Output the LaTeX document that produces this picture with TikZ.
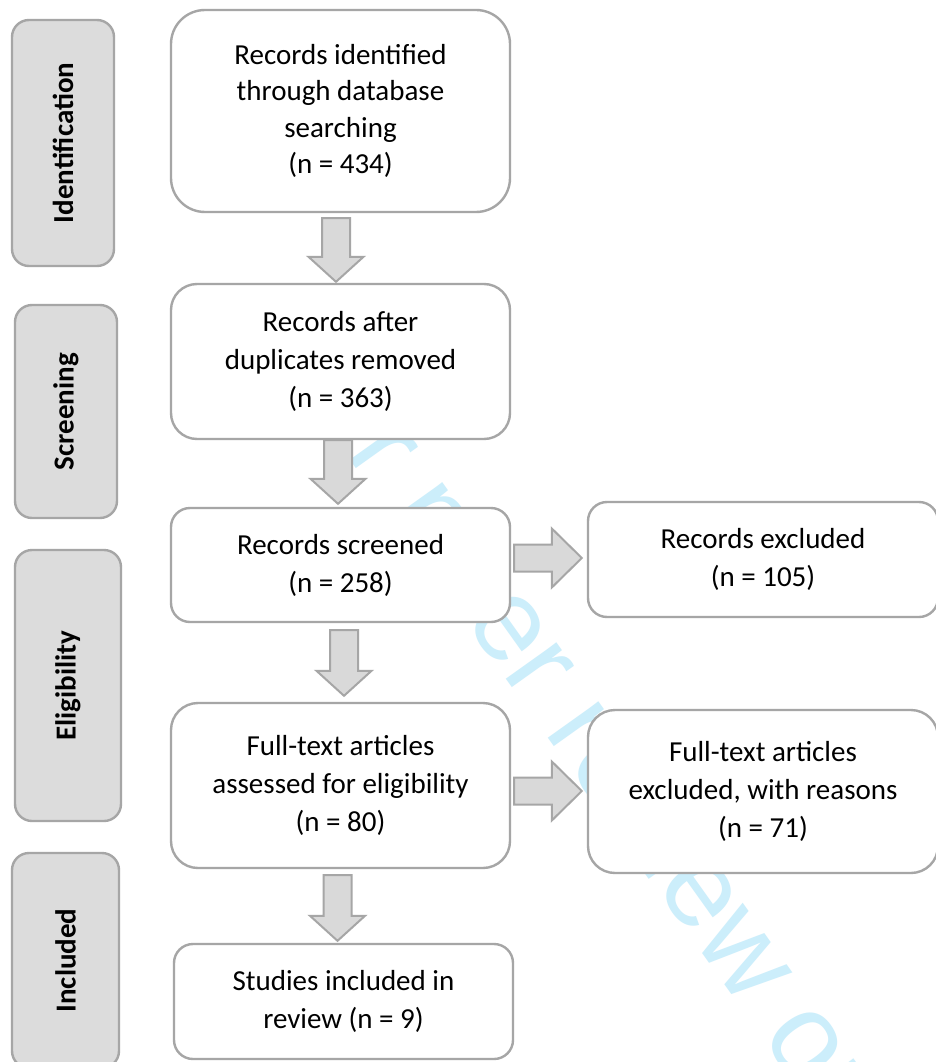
\documentclass[tikz,border=0pt]{standalone}
\usepackage{fontspec}
\setmainfont{Carlito}
\newfontfamily\markfont{Liberation Sans}
\usetikzlibrary{calc}

\definecolor{edgegray}{HTML}{A6A6A6}
\definecolor{panelgray}{HTML}{DCDCDC}
\definecolor{shaftgray}{HTML}{D9D9D9}
\definecolor{markblue}{HTML}{CCEEFB}

\tikzset{
  stage/.style={draw=edgegray, line width=2.4pt, fill=white, inner sep=0pt,
    align=center, font=\fontsize{29}{38}\selectfont},
  phase/.style={draw=edgegray, line width=2.4pt, fill=panelgray, inner sep=0pt,
    rotate=90, rounded corners=17pt, font=\bfseries\fontsize{29}{35}\selectfont},
  blockarrow/.style={draw=edgegray, line width=2pt, fill=shaftgray, line join=miter},
  watermark/.style={text=markblue, inner sep=0pt, rotate=-54.5,
    font=\markfont\fontsize{118}{118}\selectfont}
}

% block arrow pointing down: tail point, tip point (x taken from the tail)
\newcommand{\flowdown}[2]{%
  \path[blockarrow] let \p1=#1, \p2=#2 in
    (\x1-14pt,\y1) -- (\x1+14pt,\y1) -- (\x1+14pt,\y2+25pt) -- (\x1+27.5pt,\y2+25pt)
    -- (\x1,\y2) -- (\x1-27.5pt,\y2+25pt) -- (\x1-14pt,\y2+25pt) -- cycle;}
% block arrow pointing right: tail point (x only), tip point
\newcommand{\flowright}[2]{%
  \path[blockarrow] let \p1=#1, \p2=#2 in
    (\x1,\y2+13.5pt) -- (\x2-30pt,\y2+13.5pt) -- (\x2-30pt,\y2+29.5pt) -- (\x2,\y2)
    -- (\x2-30pt,\y2-29.5pt) -- (\x2-30pt,\y2-13.5pt) -- (\x1,\y2-13.5pt) -- cycle;}

\begin{document}
\begin{tikzpicture}[x=1pt,y=-1pt]
\clip (0,0) rectangle (936,1062);
\fill[white] (0,0) rectangle (936,1062);

% background watermark
\node[watermark] (mark) at (601,759) {For peer review only};

% phase labels on the left
\node[phase, minimum width=246pt, minimum height=102pt] (ident) at (63,143) {Identification};
\node[phase, minimum width=213pt, minimum height=102pt] (screen) at (66,411.5) {Screening};
\node[phase, minimum width=271pt, minimum height=106pt] (elig) at (68,685.5) {Eligibility};
\node[phase, minimum width=215pt, minimum height=107pt] (incl) at (65.5,960.5) {Included};

% main flow
\node[stage, minimum width=339pt, minimum height=202pt, rounded corners=34pt,
      font=\fontsize{29}{36.5}\selectfont] (found) at (340.5,111)
  {Records identified\\through database\\searching\\(n = 434)};
\node[stage, minimum width=339pt, minimum height=155pt, rounded corners=26pt] (dedup) at (340.5,361.5)
  {Records after\\duplicates removed\\(n = 363)};
\node[stage, minimum width=339pt, minimum height=114pt, rounded corners=19pt] (screened) at (340.5,565)
  {Records screened\\(n = 258)};
\node[stage, minimum width=339pt, minimum height=165pt, rounded corners=27pt] (fulltext) at (340.5,785.5)
  {Full-text articles\\assessed for eligibility\\(n = 80)};
\node[stage, minimum width=339pt, minimum height=115pt, rounded corners=19pt] (studies) at (343.5,1001.5)
  {Studies included in\\review (n = 9)};

% exclusions
\node[stage, minimum width=350pt, minimum height=115pt, rounded corners=19pt] (excl) at (763,559.5)
  {Records excluded\\(n = 105)};
\node[stage, minimum width=350pt, minimum height=163pt, rounded corners=27pt] (ftexcl) at (763,791.5)
  {Full-text articles\\excluded, with reasons\\(n = 71)};

% block arrows
\flowdown{([xshift=-4.5pt,yshift=-5pt]found.south)}{([yshift=1pt]dedup.north)}
\flowdown{([xshift=-2.5pt]dedup.south)}{([yshift=3pt]screened.north)}
\flowdown{([xshift=3.5pt,yshift=-7pt]screened.south)}{([yshift=6pt]fulltext.north)}
\flowdown{([xshift=-3pt,yshift=-6pt]fulltext.south)}{([yshift=2pt]studies.north)}
\flowright{([xshift=3pt]screened.east)}{([xshift=-5pt,yshift=1.5pt]excl.west)}
\flowright{([xshift=3pt]fulltext.east)}{([xshift=-5pt,yshift=0.5pt]ftexcl.west)}
\end{tikzpicture}
\end{document}
